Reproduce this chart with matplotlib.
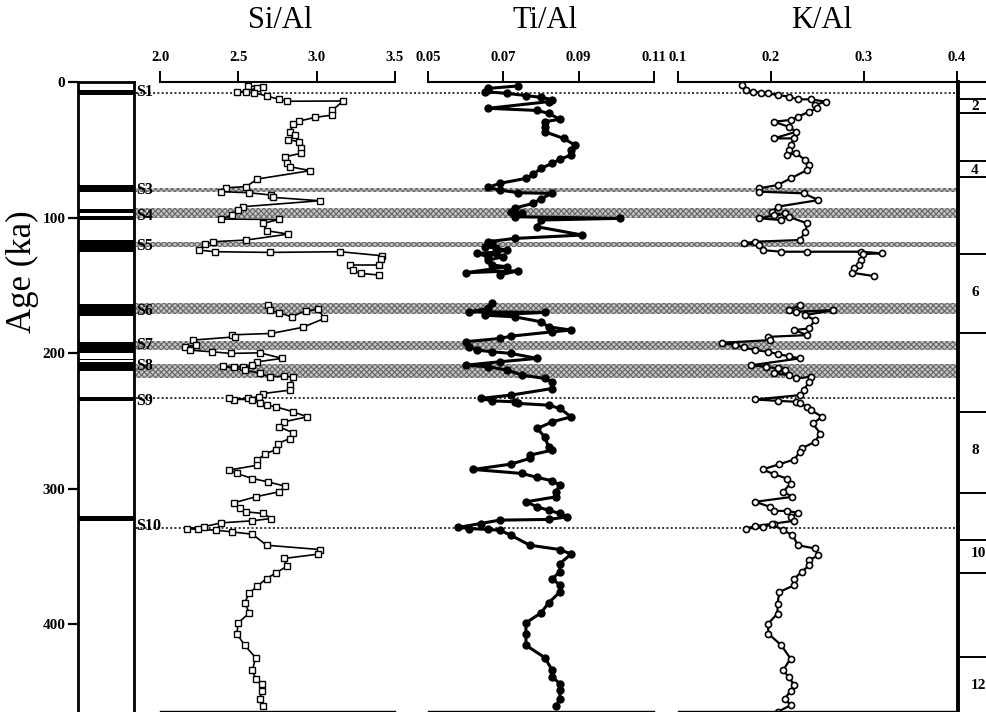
import numpy as np
import matplotlib
matplotlib.use('Agg')
import matplotlib.pyplot as plt
import matplotlib.transforms as mtransforms

nan = np.nan

# ---------------- data (ages in ka) ----------------
si_age = [
    3.0, 3.4, 4.7, 7.6, 7.6, 7.9, 10.3, 12.8, 14.2, 14.0,
    20.7, 24.4, 26.1, 28.8, 31.0, 36.7, 39.1, 42.8, 44.0, 49.0,
    52.6, 55.1, 60.0, 62.5, 65.4, 71.6, 77.2, 78.0, 80.9, 81.7,
    83.4, 85.1, 87.6, 92.0, 94.5, 98.2, 101.1, 101.4, 104.3, 109.7,
    112.2, 116.6, 117.8, 119.6, 124.0, 125.2, 125.7, 125.2, 128.2, 130.5,
    135.0, 135.0, 138.7, 141.2, 142.4, nan, 164.6, 168.3, 170.2, 173.2,
    168.7, 167.8, 174.4, 181.0, 185.5, 186.5, 188.0, 190.4, 194.1, 195.3,
    197.8, 199.0, 200.2, 199.8, 203.9, 206.4, 208.9, 210.1, 210.1, 209.6,
    212.5, 215.0, 217.5, 217.0, 217.5, 223.6, 227.3, 229.8, 232.2, 233.4,
    234.7, 233.4, 234.7, 237.1, 238.4, 239.6, 243.3, 247.0, 250.7, 254.4,
    258.8, 263.0, 266.7, 271.1, 274.5, 279.0, 282.7, 286.3, 288.8, 292.5,
    295.0, 298.2, 302.3, 306.0, 310.5, 314.6, 317.1, 318.3, 322.0, 323.7,
    325.2, 328.1, 329.4, 330.1, 330.6, 331.9, 333.6, 341.7, 344.9, 348.3,
    351.5, 357.2, 362.1, 366.3, 372.0, 376.9, 384.3, 391.6, 399.0, 406.9,
    415.5, 424.6, 434.0, 440.1, 443.8, 449.2, 454.8, 460.5]
si_val = [
    2.56, 2.66, 2.62, 2.49, 2.55, 2.60, 2.68, 2.76, 2.81, 3.17,
    3.10, 3.10, 2.99, 2.89, 2.85, 2.83, 2.86, 2.82, 2.89, 2.90,
    2.90, 2.80, 2.81, 2.83, 2.96, 2.62, 2.55, 2.42, 2.39, 2.57,
    2.71, 2.72, 3.02, 2.53, 2.50, 2.46, 2.39, 2.76, 2.66, 2.68,
    2.82, 2.55, 2.34, 2.29, 2.25, 2.35, 2.70, 3.15, 3.42, 3.41,
    3.40, 3.21, 3.23, 3.28, 3.40, nan, 2.69, 2.70, 2.76, 2.84,
    2.93, 3.01, 3.05, 2.91, 2.71, 2.46, 2.48, 2.21, 2.23, 2.16,
    2.19, 2.33, 2.45, 2.64, 2.78, 2.62, 2.59, 2.53, 2.47, 2.40,
    2.54, 2.64, 2.70, 2.79, 2.85, 2.83, 2.83, 2.66, 2.63, 2.56,
    2.47, 2.44, 2.59, 2.64, 2.68, 2.74, 2.85, 2.94, 2.79, 2.76,
    2.85, 2.83, 2.75, 2.74, 2.67, 2.62, 2.62, 2.44, 2.49, 2.59,
    2.69, 2.80, 2.76, 2.61, 2.47, 2.51, 2.55, 2.66, 2.71, 2.59,
    2.39, 2.28, 2.17, 2.24, 2.36, 2.46, 2.59, 2.68, 3.02, 3.01,
    2.79, 2.81, 2.74, 2.68, 2.62, 2.57, 2.54, 2.57, 2.50, 2.49,
    2.54, 2.61, 2.59, 2.61, 2.65, 2.65, 2.64, 2.66]

ti_age = [
    2.9, 4.7, 6.0, 7.1, 8.4, 10.0, 11.3, 13.0, 14.5, 19.4,
    21.0, 23.1, 27.5, 29.3, 33.0, 36.7, 41.6, 46.5, 50.2, 53.9,
    57.0, 60.0, 63.7, 68.0, 71.1, 74.8, 77.7, 79.7, 81.7, 82.2,
    86.0, 89.5, 93.0, 95.7, 97.0, 99.4, 100.6, 101.8, 106.8, 112.9,
    115.4, 117.8, 119.0, 121.5, 122.5, 124.0, 125.5, 126.5, 128.9, 126.4,
    128.9, 131.4, 135.0, 136.3, 140.7, 139.2, 142.4, nan, 163.3, 167.0,
    169.5, 170.0, 172.0, 173.2, 176.9, 180.6, 183.0, 184.3, 187.5, 189.2,
    191.6, 195.4, 197.8, 199.0, 200.2, 203.9, 206.4, 208.9, 210.1, 212.5,
    216.2, 218.7, 221.2, 226.1, 231.0, 233.4, 235.2, 235.9, 237.1, 238.4,
    240.8, 247.0, 250.7, 255.6, 261.8, 269.2, 271.6, 275.3, 277.7, 281.9,
    285.8, 288.8, 291.7, 294.2, 297.4, 302.3, 306.0, 309.7, 313.4, 315.9,
    318.3, 320.8, 322.7, 323.2, 325.7, 328.6, 329.4, 330.1, 330.6, 334.3,
    341.7, 344.9, 348.3, 355.2, 361.4, 366.3, 371.2, 376.2, 384.3, 391.6,
    399.0, 406.9, 415.5, 424.6, 434.0, 438.9, 443.8, 448.7, 454.8, 460.5]
ti_val = [
    0.074, 0.066, 0.066, 0.065, 0.071, 0.076, 0.080, 0.083, 0.082, 0.066,
    0.079, 0.082, 0.085, 0.081, 0.081, 0.081, 0.086, 0.089, 0.088, 0.088,
    0.085, 0.083, 0.080, 0.078, 0.076, 0.069, 0.066, 0.069, 0.074, 0.083,
    0.080, 0.078, 0.073, 0.072, 0.075, 0.073, 0.101, 0.080, 0.079, 0.091,
    0.073, 0.066, 0.067, 0.065, 0.068, 0.071, 0.068, 0.063, 0.066, 0.068,
    0.070, 0.066, 0.067, 0.071, 0.060, 0.074, 0.069, nan, 0.067, 0.066,
    0.061, 0.081, 0.065, 0.073, 0.080, 0.082, 0.088, 0.083, 0.072, 0.069,
    0.060, 0.061, 0.063, 0.067, 0.072, 0.079, 0.069, 0.060, 0.066, 0.071,
    0.075, 0.081, 0.083, 0.083, 0.072, 0.064, 0.067, 0.073, 0.074, 0.082,
    0.085, 0.088, 0.083, 0.079, 0.081, 0.082, 0.083, 0.077, 0.077, 0.072,
    0.062, 0.075, 0.079, 0.083, 0.085, 0.084, 0.084, 0.076, 0.079, 0.082,
    0.085, 0.087, 0.082, 0.069, 0.064, 0.058, 0.061, 0.066, 0.069, 0.072,
    0.077, 0.085, 0.088, 0.085, 0.085, 0.083, 0.085, 0.085, 0.082, 0.080,
    0.076, 0.076, 0.076, 0.081, 0.083, 0.083, 0.085, 0.085, 0.085, 0.084]

k_age = [
    2.2, 5.9, 7.1, 7.9, 8.4, 9.6, 10.8, 12.8, 12.8, 14.5,
    17.0, 19.4, 21.9, 25.6, 28.0, 29.3, 33.0, 36.7, 41.6, 41.6,
    46.5, 50.2, 53.9, 52.6, 57.6, 61.3, 64.9, 71.1, 76.0, 78.5,
    80.9, 82.1, 87.1, 92.0, 95.7, 98.2, 96.9, 100.6, 101.8, 99.4,
    104.3, 110.5, 116.6, 117.8, 119.0, 120.3, 124.0, 125.2, 125.2, 125.2,
    126.4, 126.9, 131.4, 135.0, 137.5, 140.7, 143.2, nan, 164.6, 168.3,
    169.5, 168.3, 172.0, 175.6, 181.8, 183.0, 186.7, 188.0, 190.4, 192.4,
    194.1, 195.8, 197.8, 199.0, 200.7, 202.2, 203.9, 208.9, 210.1, 211.3,
    212.5, 215.0, 216.2, 218.7, 217.5, 221.2, 227.3, 231.0, 234.2, 235.2,
    235.9, 237.1, 239.6, 242.1, 247.0, 251.9, 259.3, 265.5, 270.3, 272.8,
    278.5, 281.9, 285.8, 289.3, 292.5, 296.2, 302.3, 306.0, 309.7, 313.4,
    316.4, 316.4, 317.8, 320.8, 323.7, 325.7, 327.7, 329.4, 328.6, 326.2,
    330.6, 334.3, 341.7, 344.1, 349.1, 352.8, 356.5, 361.4, 366.3, 371.2,
    376.2, 384.7, 392.1, 399.5, 406.9, 415.5, 425.3, 434.0, 438.9, 445.0,
    449.2, 454.8, 459.8, 464.7]
k_val = [
    0.169, 0.173, 0.181, 0.189, 0.197, 0.207, 0.219, 0.229, 0.243, 0.259,
    0.247, 0.249, 0.241, 0.229, 0.221, 0.203, 0.219, 0.227, 0.203, 0.225,
    0.221, 0.219, 0.217, 0.227, 0.237, 0.241, 0.239, 0.221, 0.207, 0.187,
    0.187, 0.235, 0.251, 0.207, 0.201, 0.203, 0.215, 0.187, 0.211, 0.219,
    0.239, 0.237, 0.231, 0.183, 0.171, 0.187, 0.191, 0.211, 0.239, 0.297,
    0.319, 0.299, 0.297, 0.295, 0.289, 0.287, 0.311, nan, 0.231, 0.219,
    0.227, 0.267, 0.237, 0.247, 0.241, 0.225, 0.239, 0.197, 0.199, 0.147,
    0.161, 0.171, 0.183, 0.197, 0.207, 0.219, 0.231, 0.179, 0.195, 0.207,
    0.215, 0.203, 0.219, 0.227, 0.243, 0.241, 0.235, 0.231, 0.183, 0.207,
    0.227, 0.231, 0.239, 0.243, 0.255, 0.245, 0.253, 0.247, 0.233, 0.231,
    0.225, 0.209, 0.191, 0.203, 0.217, 0.221, 0.213, 0.223, 0.183, 0.199,
    0.203, 0.217, 0.229, 0.221, 0.225, 0.203, 0.183, 0.173, 0.191, 0.201,
    0.213, 0.223, 0.229, 0.247, 0.251, 0.241, 0.241, 0.233, 0.225, 0.225,
    0.209, 0.207, 0.207, 0.197, 0.197, 0.211, 0.221, 0.213, 0.219, 0.225,
    0.221, 0.215, 0.221, 0.207]

# sapropel layers in the core log (top, bottom age)
sap_top = [5.7, 76.0, 93.8, 98.7, 116.7, 164.0, 191.8, 204.0, 206.6, 232.4, 320.3]
sap_bot = [9.6, 81.5, 96.7, 101.7, 125.3, 172.6, 200.0, 205.3, 213.2, 235.3, 324.2]

# sapropel labels and correlation bands across panels
band_names = ['S1', 'S3', 'S4', 'S5', 'S6', 'S7', 'S8', 'S9', 'S10']
band_label_age = [7.4, 79.7, 98.9, 121.0, 169.0, 194.0, 209.6, 235.0, 327.5]
band_top = [7.9, 78.2, 93.0, 117.9, 163.0, 191.0, 208.0, 233.0, 328.8]
band_bot = [7.9, 81.0, 100.4, 121.5, 171.0, 197.8, 218.5, 233.0, 328.8]

# marine isotope stage boundaries and labels
mis_bounds = [12.8, 23.1, 58.3, 69.9, 127.2, 185.5, 243.5, 303.5, 338.0, 362.1, 424.0]
mis_labels = ['2', '4', '6', '8', '10', '12']
mis_label_age = [18.0, 65.0, 155.0, 272.0, 348.0, 445.0]

age_ticks = [0, 100, 200, 300, 400]
si_ticks = [2.0, 2.5, 3.0, 3.5]
ti_ticks = [0.05, 0.07, 0.09, 0.11]
k_ticks = [0.1, 0.2, 0.3, 0.4]

# ---------------- figure ----------------
plt.rcParams['font.family'] = ['Liberation Serif', 'DejaVu Serif']
W, H = 986, 712
fig = plt.figure(figsize=(W / 100, H / 100), dpi=100)
Y_TOP, Y_BOT = 82, 711
AGE_MAX = 464


def add_ax(x0, x1, z=1):
    ax = fig.add_axes([x0 / W, 1 - Y_BOT / H, (x1 - x0) / W, (Y_BOT - Y_TOP) / H], zorder=z)
    ax.set_ylim(AGE_MAX, 0)
    ax.patch.set_alpha(0)
    return ax


# background bands
ax_bg = add_ax(136, 957, z=0)
ax_bg.set_xlim(0, 1)
ax_bg.axis('off')
plt.rcParams['hatch.linewidth'] = 0.8
for t, b in zip(band_top, band_bot):
    if b - t < 1:
        ax_bg.axhline(t, color='#333333', lw=1.4, ls=(0, (1, 1.2)))
    else:
        ax_bg.axhspan(t, b, facecolor='#c4c4c4', edgecolor='#666666', lw=0, hatch='xxxxxx')

# core log column
ax_col = add_ax(78, 134, z=2)
ax_col.set_xlim(0, 1)
for t, b in zip(sap_top, sap_bot):
    ax_col.axhspan(t, b, color='black', lw=0)
for s in ['left', 'right', 'top']:
    ax_col.spines[s].set_linewidth(2.0)
ax_col.spines['bottom'].set_visible(False)
ax_col.set_xticks([])
ax_col.set_yticks(age_ticks)
ax_col.set_yticklabels([str(a) for a in age_ticks], fontsize=11, fontweight='bold')
ax_col.tick_params(axis='y', direction='out', length=7, width=1.6, pad=2)
trans = mtransforms.blended_transform_factory(ax_col.transAxes, ax_col.transData)
for name, a in zip(band_names, band_label_age):
    ax_col.text(1.04, a, name, transform=trans, ha='left', va='center',
                fontsize=11.5, fontweight='bold')

fig.text(22 / W, 1 - 272 / H, 'Age (ka)', rotation=90, ha='center', va='center', fontsize=25)


def style_panel(ax, lim, ticks, labels):
    ax.set_xlim(*lim)
    ax.xaxis.tick_top()
    ax.set_xticks(ticks)
    ax.set_xticklabels(labels, fontsize=10.5, fontweight='bold')
    ax.tick_params(axis='x', direction='out', length=8, width=1.4, pad=5)
    ax.set_yticks([])
    ax.spines['left'].set_visible(False)
    ax.spines['right'].set_visible(False)
    ax.spines['top'].set_linewidth(1.5)
    ax.spines['bottom'].set_linewidth(1.0)


ax_si = add_ax(160, 395, z=3)
style_panel(ax_si, (2.0, 3.5), si_ticks, ['2.0', '2.5', '3.0', '3.5'])
ax_si.plot(si_val, si_age, color='black', lw=1.2, marker='s', ms=4.2,
           mfc='white', mec='black', mew=1.0)

ax_ti = add_ax(428, 654, z=3)
style_panel(ax_ti, (0.05, 0.11), ti_ticks, ['0.05', '0.07', '0.09', '0.11'])
ax_ti.plot(ti_val, ti_age, color='black', lw=2.2, marker='o', ms=5,
           mfc='black', mec='black')

ax_k = add_ax(678, 957, z=3)
style_panel(ax_k, (0.1, 0.4), k_ticks, ['0.1', '0.2', '0.3', '0.4'])
ax_k.plot(k_val, k_age, color='black', lw=1.6, marker='o', ms=4.4,
          mfc='white', mec='black', mew=1.2)

for x, title in [(280, 'Si/Al'), (545, 'Ti/Al'), (822, 'K/Al')]:
    fig.text(x / W, 1 - 21 / H, title, ha='center', va='center', fontsize=22)

# isotope stage column
ax_mis = add_ax(958, 1010, z=4)
ax_mis.set_xlim(0, 1)
ax_mis.set_xticks([])
ax_mis.set_yticks([])
ax_mis.spines['left'].set_linewidth(2.8)
ax_mis.spines['top'].set_linewidth(1.5)
ax_mis.spines['right'].set_visible(False)
ax_mis.spines['bottom'].set_visible(False)
for b in mis_bounds:
    ax_mis.axhline(b, color='black', lw=1.4)
for lab, a in zip(mis_labels, mis_label_age):
    ax_mis.text(0.25, a, lab, ha='left', va='center', fontsize=11, fontweight='bold')

fig.savefig('out.png', dpi=100)
